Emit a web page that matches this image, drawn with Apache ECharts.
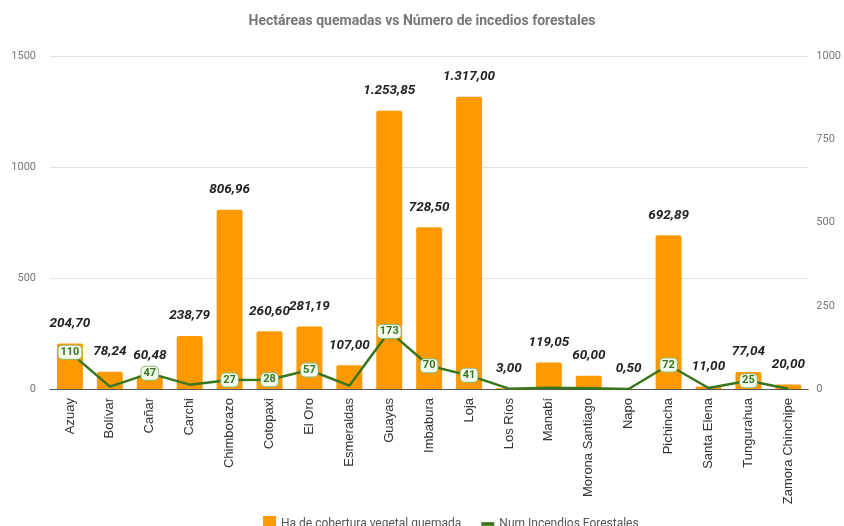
<!DOCTYPE html>
<html>
<head>
<meta charset="utf-8">
<script src="https://cdn.jsdelivr.net/npm/echarts@6/dist/echarts.min.js"></script>
<style>
  html, body { margin: 0; padding: 0; background: #fff; }
  #chart { width: 844px; height: 526px; }
</style>
</head>
<body>
<div id="chart"></div>
<script>
// datos
const provincias = ['Azuay', 'Bolívar', 'Cañar', 'Carchi', 'Chimborazo', 'Cotopaxi', 'El Oro', 'Esmeraldas',
  'Guayas', 'Imbabura', 'Loja', 'Los Ríos', 'Manabí', 'Morona Santiago', 'Napo', 'Pichincha',
  'Santa Elena', 'Tungurahua', 'Zamora Chinchipe'];
const hectareas = [204.70, 78.24, 60.48, 238.79, 806.96, 260.60, 281.19, 107.00, 1253.85, 728.50,
  1317.00, 3.00, 119.05, 60.00, 0.50, 692.89, 11.00, 77.04, 20.00];
const incendios = [110, 7, 47, 13, 27, 28, 57, 10, 173, 70, 41, 1, 4, 2, 0, 72, 3, 25, 1];
const ticksIzq = [0, 500, 1000, 1500];
const ticksDer = [0, 250, 500, 750, 1000];

const naranja = '#ff9900';
const verde = '#38761d';

// 1253.85 -> "1.253,85"
const formatoEs = (v) => {
  const partes = v.toFixed(2).split('.');
  partes[0] = partes[0].replace(/\B(?=(\d{3})+(?!\d))/g, '.');
  return partes.join(',');
};

const chart = echarts.init(document.getElementById('chart'));
const option = {
  backgroundColor: '#fff',
  animation: false,
  title: {
    text: 'Hectáreas quemadas vs Número de incedios forestales',
    left: 'center',
    top: 9,
    textStyle: { fontFamily: 'Roboto', fontSize: 14, fontWeight: 'bold', color: '#777' },
  },
  grid: { left: 50, right: 35, top: 56, bottom: 137 },
  legend: {
    top: 511,
    left: 258,
    itemGap: 20,
    itemWidth: 13,
    itemHeight: 16,
    textStyle: { fontFamily: 'Roboto', fontSize: 12, color: '#555' },
    data: [
      { name: 'Ha de cobertura vegetal quemada', icon: 'rect' },
      { name: 'Num Incendios Forestales', icon: 'path://M0,6H14V10H0Z' },
    ],
  },
  xAxis: {
    type: 'category',
    data: provincias,
    axisLine: { lineStyle: { color: '#555', width: 1 } },
    axisTick: { show: false },
    axisLabel: {
      rotate: 90,
      interval: 0,
      margin: 9,
      fontFamily: 'Liberation Sans',
      fontSize: 13,
      color: '#333',
    },
  },
  yAxis: [
    {
      type: 'value',
      min: ticksIzq[0],
      max: ticksIzq[ticksIzq.length - 1],
      interval: 500,
      axisLine: { show: false },
      axisTick: { show: false },
      splitLine: { lineStyle: { color: '#e3e3e3' } },
      axisLabel: { fontFamily: 'Roboto', fontSize: 11, color: '#777', margin: 14, formatter: (v) => String(v) },
    },
    {
      type: 'value',
      min: ticksDer[0],
      max: ticksDer[ticksDer.length - 1],
      interval: 250,
      position: 'right',
      axisLine: { show: false },
      axisTick: { show: false },
      splitLine: { show: false },
      axisLabel: { fontFamily: 'Roboto', fontSize: 11, color: '#777', margin: 8, formatter: (v) => String(v) },
    },
  ],
  series: [
    {
      name: 'Ha de cobertura vegetal quemada',
      type: 'bar',
      barWidth: '65%',
      data: hectareas,
      itemStyle: { color: naranja, borderRadius: [2, 2, 0, 0] },
      label: {
        show: true,
        position: 'top',
        distance: 13,
        formatter: (p) => formatoEs(p.value),
        fontFamily: 'Roboto',
        fontStyle: 'italic',
        fontWeight: 'bold',
        fontSize: 13.5,
        color: '#222',
      },
    },
    {
      name: 'Num Incendios Forestales',
      type: 'line',
      yAxisIndex: 1,
      // solo los valores grandes llevan etiqueta
      data: incendios.map((v) => ({ value: v, label: { show: v >= 20 } })),
      symbol: 'circle',
      symbolSize: 1,
      lineStyle: { color: verde, width: 2.5 },
      itemStyle: { color: verde },
      label: {
        position: 'inside',
        fontFamily: 'Roboto',
        fontWeight: 'bold',
        fontSize: 11,
        color: verde,
        backgroundColor: '#f4fbef',
        borderColor: '#8dbb74',
        borderWidth: 1,
        borderRadius: 4,
        padding: [1, 2],
      },
    },
  ],
};
chart.setOption(option);
</script>
</body>
</html>
